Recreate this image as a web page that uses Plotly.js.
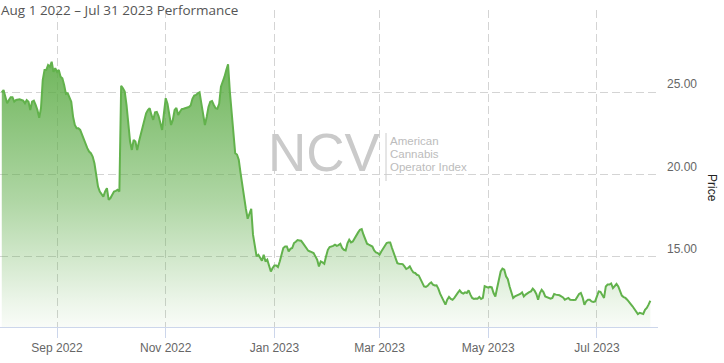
<!DOCTYPE html>
<html>
<head>
<meta charset="utf-8">
<script src="https://cdn.plot.ly/plotly-3.0.1.min.js"></script>
<style>html,body{margin:0;padding:0;background:#fff}#chart{width:724px;height:363px}</style>
</head>
<body>
<div id="chart"></div>
<script>
// ---- data ----
const startDate = '2022-08-01';
const dayMs = 86400000;
const price = [
25.00,25.14,24.73,24.33,24.53,24.70,24.70,24.43,24.53,24.55,
24.57,24.53,24.49,24.33,24.53,24.43,23.92,24.43,24.49,24.23,
23.92,23.45,24.03,25.75,26.36,26.36,26.66,26.56,26.86,26.25,
26.46,26.25,26.36,25.95,25.85,25.44,24.90,24.94,24.73,24.43,
23.52,23.01,22.81,22.81,22.71,22.40,22.20,21.90,21.60,21.39,
21.29,21.09,20.68,19.97,19.26,18.96,18.76,18.65,18.96,19.16,
18.45,18.56,18.76,18.96,19.00,19.06,18.96,25.40,25.24,25.04,
24.23,23.21,22.00,21.49,22.10,22.00,21.49,22.00,22.45,22.91,
23.42,23.72,23.92,24.03,23.62,23.32,23.78,23.80,23.55,23.15,
22.71,23.72,24.64,24.30,23.70,23.01,23.32,23.92,24.05,23.62,
23.82,23.98,24.00,24.03,24.06,24.10,24.20,24.60,24.80,24.84,
24.94,25.00,24.33,23.52,23.01,23.50,24.10,24.43,24.47,24.23,
24.03,24.00,24.30,25.34,25.60,25.95,26.36,26.70,25.04,23.60,
22.60,21.29,21.21,20.90,20.10,19.30,18.60,17.90,17.30,17.64,
17.91,16.33,15.61,15.01,15.11,14.91,14.74,15.11,14.70,14.81,
14.40,14.09,14.30,14.46,14.46,14.36,14.70,15.11,15.52,15.61,
15.61,15.31,15.47,15.52,15.82,15.90,16.00,15.98,15.96,15.82,
15.65,15.45,15.35,15.31,15.25,15.21,15.01,14.81,14.40,14.70,
14.64,14.56,15.01,15.41,15.58,15.61,15.65,15.72,15.65,15.70,
15.78,15.52,15.41,15.37,15.80,16.02,15.86,15.92,16.12,16.33,
16.47,16.63,16.67,16.33,16.02,15.78,15.72,15.66,15.61,15.37,
15.25,15.21,15.11,15.31,15.50,15.65,15.82,15.86,15.86,15.52,
15.21,14.91,14.60,14.56,14.55,14.54,14.40,14.24,14.30,14.40,
14.20,14.03,14.00,13.89,13.85,13.59,13.43,13.18,13.15,13.22,
13.35,13.43,13.29,13.24,13.25,13.05,12.74,12.48,12.27,12.07,
12.37,12.54,12.42,12.37,12.48,12.68,12.80,12.94,12.80,12.74,
12.82,12.78,12.94,12.68,12.48,12.42,12.45,12.43,12.54,12.42,
12.48,13.20,13.15,13.10,13.15,13.12,12.78,12.57,13.08,13.59,
14.09,14.26,14.20,13.80,13.62,13.18,12.78,12.48,12.57,12.62,
12.68,12.72,12.82,12.57,12.68,12.78,12.83,12.88,13.04,12.92,
12.72,12.37,12.78,12.98,12.84,12.57,12.51,12.48,12.43,12.48,
12.72,12.68,12.68,12.64,12.58,12.51,12.37,12.43,12.48,12.37,
12.35,12.35,12.37,12.57,12.72,12.78,12.50,12.07,12.27,12.37,
12.37,12.27,12.23,12.27,12.60,12.88,12.85,12.65,12.48,13.18,
13.29,13.29,13.36,13.08,13.24,13.33,13.18,12.88,12.62,12.53,
12.48,12.37,12.27,12.11,11.97,11.83,11.63,11.50,11.57,11.55,
11.50,11.75,11.87,12.07,12.31
];
const xTickDates = ['2022-09-01','2022-11-01','2023-01-01','2023-03-01','2023-05-01','2023-07-01'];
const xTickLabels = ['Sep 2022','Nov 2022','Jan 2023','Mar 2023','May 2023','Jul 2023'];
const yTickVals = [15, 20, 25];
const yTickLabels = ['15.00', '20.00', '25.00'];
const titleText = 'Aug 1 2022 \u2013 Jul 31 2023 Performance';
const yTitle = 'Price';
const watermarkBig = 'NCV';
const watermarkLines = ['American', 'Cannabis', 'Operator Index'];

// ---- layout helpers (pixel -> paper) ----
const L = 0, T = 10, PW = 658, PH = 317;
const px = x => (x - L) / PW;
const py = y => 1 - (y - T) / PH;

const G = '92,172,70';
const trace = {
  type: 'scatter', mode: 'lines',
  x0: startDate, dx: dayMs, y: price,
  line: {color: 'rgb(98,178,76)', width: 2},
  fill: 'tozeroy',
  fillgradient: {
    type: 'vertical', start: 10.71, stop: 27,
    colorscale: [
      [0, `rgba(${G},0.04)`],
      [0.098, `rgba(${G},0.12)`],
      [0.288, `rgba(${G},0.31)`],
      [0.472, `rgba(${G},0.49)`],
      [0.847, `rgba(${G},0.77)`],
      [1, `rgba(${G},0.88)`]
    ]
  },
  hoverinfo: 'skip', showlegend: false
};

const greyTxt = '#666666';
const wmLineY = [141, 154, 167];
const layout = {
  width: 724, height: 363,
  margin: {l: L, r: 724 - L - PW, t: T, b: 363 - T - PH, pad: 0},
  paper_bgcolor: '#ffffff', plot_bgcolor: '#ffffff',
  font: {family: 'Liberation Sans, Arial, sans-serif', size: 12, color: greyTxt},
  showlegend: false,
  xaxis: {
    type: 'date',
    range: ['2022-07-31 00:00', '2023-08-04 07:00'],
    tickvals: xTickDates, ticktext: xTickLabels,
    showgrid: true, gridcolor: '#d4d4d4', gridwidth: 1, griddash: '8px,4px',
    showline: true, linecolor: '#ccd6eb', linewidth: 1,
    ticks: 'outside', ticklen: 10, tickcolor: '#ccd6eb', tickwidth: 1,
    tickfont: {size: 12, color: greyTxt},
    zeroline: false, fixedrange: true
  },
  yaxis: {
    side: 'right',
    range: [10.71, 30.01],
    tickvals: yTickVals, ticktext: yTickLabels,
    showgrid: true, gridcolor: '#d4d4d4', gridwidth: 1, griddash: '8px,4px',
    showline: false, ticks: '', zeroline: false,
    tickfont: {size: 12, color: greyTxt},
    ticklabelstandoff: 8, ticklabelshift: -8,
    fixedrange: true
  },
  annotations: [
    {text: titleText, xref: 'paper', yref: 'paper', x: px(0), y: py(0), xanchor: 'left', yanchor: 'top',
     borderpad: 0, showarrow: false, font: {family: 'Open Sans, sans-serif', size: 13.5, color: '#555555'}},
    {text: yTitle, xref: 'paper', yref: 'paper', x: px(712), y: py(188), xanchor: 'center', yanchor: 'middle',
     textangle: 90, showarrow: false, font: {size: 12, color: '#222222'}},
    {text: watermarkBig, xref: 'paper', yref: 'paper', x: px(266), y: py(152), xanchor: 'left', yanchor: 'middle',
     showarrow: false, font: {family: 'Liberation Sans, Arial, sans-serif', size: 53, color: '#cacaca'}}
  ].concat(watermarkLines.map((t, i) => ({
     text: t, xref: 'paper', yref: 'paper', x: px(389), y: py(wmLineY[i]), xanchor: 'left', yanchor: 'middle',
     showarrow: false, borderpad: 0, font: {size: 11.5, color: '#bcbcbc'}}))),
  shapes: [
    {type: 'line', xref: 'paper', yref: 'paper', x0: px(386), x1: px(386), y0: py(133), y1: py(181),
     line: {color: '#cccccc', width: 1}}
  ]
};

Plotly.newPlot('chart', [trace], layout, {staticPlot: true, displayModeBar: false});
</script>
</body>
</html>
